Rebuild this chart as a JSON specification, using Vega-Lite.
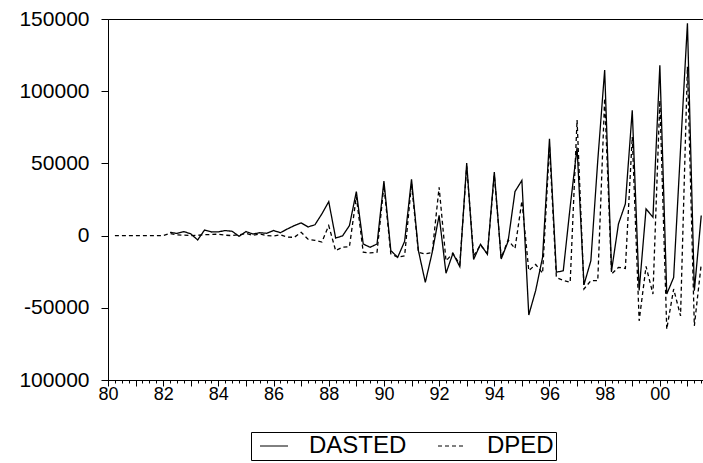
{
  "$schema": "https://vega.github.io/schema/vega-lite/v6.json",
  "width": 596,
  "height": 361,
  "autosize": "none",
  "padding": {"left": 108, "top": 19, "right": 0, "bottom": 83},
  "background": "white",
  "config": {
    "view": {"stroke": "black", "strokeWidth": 1},
    "axis": {"labelFont": "Liberation Sans", "labelColor": "black", "domainColor": "black", "domainWidth": 1, "ticks": true, "tickColor": "black", "tickWidth": 1, "tickOpacity": 1, "grid": false, "title": null, "labelOverlap": false, "labelFlush": false}
  },
  "data": {"values": [
    {"t": 1980.25, "DASTED": null, "DPED": 0},
    {"t": 1980.5, "DASTED": null, "DPED": 0},
    {"t": 1980.75, "DASTED": null, "DPED": 0},
    {"t": 1981.0, "DASTED": null, "DPED": 0},
    {"t": 1981.25, "DASTED": null, "DPED": 0},
    {"t": 1981.5, "DASTED": null, "DPED": 0},
    {"t": 1981.75, "DASTED": null, "DPED": 0},
    {"t": 1982.0, "DASTED": null, "DPED": 0},
    {"t": 1982.25, "DASTED": 2300, "DPED": 1500},
    {"t": 1982.5, "DASTED": 1500, "DPED": 500},
    {"t": 1982.75, "DASTED": 2800, "DPED": 300},
    {"t": 1983.0, "DASTED": 1200, "DPED": 0},
    {"t": 1983.25, "DASTED": -3000, "DPED": 200},
    {"t": 1983.5, "DASTED": 3900, "DPED": 600},
    {"t": 1983.75, "DASTED": 2500, "DPED": 800},
    {"t": 1984.0, "DASTED": 2600, "DPED": 1000},
    {"t": 1984.25, "DASTED": 3500, "DPED": 300},
    {"t": 1984.5, "DASTED": 3000, "DPED": 0},
    {"t": 1984.75, "DASTED": -500, "DPED": 600},
    {"t": 1985.0, "DASTED": 2800, "DPED": 1500},
    {"t": 1985.25, "DASTED": 1100, "DPED": 200},
    {"t": 1985.5, "DASTED": 2000, "DPED": 1200},
    {"t": 1985.75, "DASTED": 1600, "DPED": 0},
    {"t": 1986.0, "DASTED": 3500, "DPED": -300},
    {"t": 1986.25, "DASTED": 2000, "DPED": 500},
    {"t": 1986.5, "DASTED": 4600, "DPED": -1000},
    {"t": 1986.75, "DASTED": 6900, "DPED": -1200},
    {"t": 1987.0, "DASTED": 8800, "DPED": 2300},
    {"t": 1987.25, "DASTED": 6000, "DPED": -2500},
    {"t": 1987.5, "DASTED": 7500, "DPED": -3300},
    {"t": 1987.75, "DASTED": 15000, "DPED": -4500},
    {"t": 1988.0, "DASTED": 23500, "DPED": 6900},
    {"t": 1988.25, "DASTED": -1700, "DPED": -10400},
    {"t": 1988.5, "DASTED": -200, "DPED": -8000},
    {"t": 1988.75, "DASTED": 6900, "DPED": -7700},
    {"t": 1989.0, "DASTED": 30500, "DPED": 27000},
    {"t": 1989.25, "DASTED": -5800, "DPED": -11500},
    {"t": 1989.5, "DASTED": -8100, "DPED": -12000},
    {"t": 1989.75, "DASTED": -5800, "DPED": -11500},
    {"t": 1990.0, "DASTED": 37700, "DPED": 34700},
    {"t": 1990.25, "DASTED": -10400, "DPED": -12700},
    {"t": 1990.5, "DASTED": -15000, "DPED": -15000},
    {"t": 1990.75, "DASTED": -4000, "DPED": -14000},
    {"t": 1991.0, "DASTED": 39000, "DPED": 36000},
    {"t": 1991.25, "DASTED": -10400, "DPED": -11600},
    {"t": 1991.5, "DASTED": -32400, "DPED": -12700},
    {"t": 1991.75, "DASTED": -11600, "DPED": -11600},
    {"t": 1992.0, "DASTED": 14000, "DPED": 33500},
    {"t": 1992.25, "DASTED": -26100, "DPED": -17500},
    {"t": 1992.5, "DASTED": -12300, "DPED": -12300},
    {"t": 1992.75, "DASTED": -21500, "DPED": -20000},
    {"t": 1993.0, "DASTED": 50200, "DPED": 48000},
    {"t": 1993.25, "DASTED": -16500, "DPED": -14000},
    {"t": 1993.5, "DASTED": -6000, "DPED": -6500},
    {"t": 1993.75, "DASTED": -13000, "DPED": -12500},
    {"t": 1994.0, "DASTED": 44000, "DPED": 42000},
    {"t": 1994.25, "DASTED": -16200, "DPED": -15500},
    {"t": 1994.5, "DASTED": -4000, "DPED": -3000},
    {"t": 1994.75, "DASTED": 30500, "DPED": -9000},
    {"t": 1995.0, "DASTED": 38200, "DPED": 24000},
    {"t": 1995.25, "DASTED": -55000, "DPED": -24300},
    {"t": 1995.5, "DASTED": -38000, "DPED": -20000},
    {"t": 1995.75, "DASTED": -15000, "DPED": -26000},
    {"t": 1996.0, "DASTED": 67100, "DPED": 62000},
    {"t": 1996.25, "DASTED": -25400, "DPED": -29000},
    {"t": 1996.5, "DASTED": -24300, "DPED": -31000},
    {"t": 1996.75, "DASTED": 20000, "DPED": -32400},
    {"t": 1997.0, "DASTED": 61000, "DPED": 80000},
    {"t": 1997.25, "DASTED": -34000, "DPED": -37000},
    {"t": 1997.5, "DASTED": -17400, "DPED": -31200},
    {"t": 1997.75, "DASTED": 52000, "DPED": -31200},
    {"t": 1998.0, "DASTED": 114600, "DPED": 95000},
    {"t": 1998.25, "DASTED": -24300, "DPED": -26600},
    {"t": 1998.5, "DASTED": 8100, "DPED": -22000},
    {"t": 1998.75, "DASTED": 22000, "DPED": -22700},
    {"t": 1999.0, "DASTED": 86800, "DPED": 68300},
    {"t": 1999.25, "DASTED": -38000, "DPED": -59000},
    {"t": 1999.5, "DASTED": 18500, "DPED": -21300},
    {"t": 1999.75, "DASTED": 12700, "DPED": -40500},
    {"t": 2000.0, "DASTED": 118000, "DPED": 93700},
    {"t": 2000.25, "DASTED": -40500, "DPED": -64800},
    {"t": 2000.5, "DASTED": -29000, "DPED": -37000},
    {"t": 2000.75, "DASTED": 60000, "DPED": -55600},
    {"t": 2001.0, "DASTED": 147000, "DPED": 117000},
    {"t": 2001.25, "DASTED": -38200, "DPED": -62500},
    {"t": 2001.5, "DASTED": 13900, "DPED": -19700}
  ]},
  "transform": [{"fold": ["DASTED", "DPED"], "as": ["series", "value"]}],
  "layer": [
    {
      "mark": {"type": "line", "strokeWidth": 1.3, "color": "black"},
      "encoding": {
        "x": {
          "field": "t", "type": "quantitative",
          "scale": {"domain": [1980, 2001.6], "nice": false, "zero": false},
          "axis": {
            "orient": "bottom", "ticks": true,
            "values": [1980,1981,1982,1983,1984,1985,1986,1987,1988,1989,1990,1991,1992,1993,1994,1995,1996,1997,1998,1999,2000,2001],
            "tickSize": 6, "labelFontSize": 18, "labelPadding": -1,
            "labelExpr": "datum.value % 2 == 0 ? ((datum.value % 100) < 10 ? '0' : '') + (datum.value % 100) : ''"
          }
        },
        "y": {
          "field": "value", "type": "quantitative",
          "scale": {"domain": [-100000, 150000], "nice": false, "zero": false},
          "axis": {
            "ticks": true,
            "values": [-100000, -50000, 0, 50000, 100000, 150000],
            "tickSize": 7, "labelFontSize": 21, "labelPadding": 12,
            "labelExpr": "datum.value == -100000 ? '100000' : '' + datum.value"
          }
        },
        "strokeDash": {
          "field": "series", "type": "nominal",
          "scale": {"domain": ["DASTED", "DPED"], "range": [[1, 0], [4, 3]]},
          "legend": {
            "orient": "none", "legendX": 143, "legendY": 413, "direction": "horizontal",
            "title": null, "strokeColor": "black", "padding": 2,
            "symbolType": "M-2,0L2,0", "symbolSize": 196, "symbolStrokeWidth": 1, "symbolStrokeColor": "black", "symbolFillColor": "transparent", "symbolOffset": 9,
            "labelFont": "Liberation Sans", "labelFontSize": 24, "labelColor": "black",
            "labelOffset": 23, "columnPadding": 24
          }
        }
      }
    },
    {
      "mark": {"type": "line", "opacity": 0},
      "encoding": {
        "x": {
          "field": "t", "type": "quantitative",
          "scale": {"domain": [1980, 2001.6], "nice": false, "zero": false},
          "axis": {
            "orient": "bottom", "domain": false, "labels": false, "ticks": true, "tickSize": 3,
            "values": [1980,1980.25,1980.5,1980.75,1981,1981.25,1981.5,1981.75,1982,1982.25,1982.5,1982.75,1983,1983.25,1983.5,1983.75,1984,1984.25,1984.5,1984.75,1985,1985.25,1985.5,1985.75,1986,1986.25,1986.5,1986.75,1987,1987.25,1987.5,1987.75,1988,1988.25,1988.5,1988.75,1989,1989.25,1989.5,1989.75,1990,1990.25,1990.5,1990.75,1991,1991.25,1991.5,1991.75,1992,1992.25,1992.5,1992.75,1993,1993.25,1993.5,1993.75,1994,1994.25,1994.5,1994.75,1995,1995.25,1995.5,1995.75,1996,1996.25,1996.5,1996.75,1997,1997.25,1997.5,1997.75,1998,1998.25,1998.5,1998.75,1999,1999.25,1999.5,1999.75,2000,2000.25,2000.5,2000.75,2001,2001.25,2001.5]
          }
        },
        "y": {"field": "value", "type": "quantitative", "scale": {"domain": [-100000, 150000], "nice": false, "zero": false}, "axis": null},
        "detail": {"field": "series"}
      }
    }
  ],
  "resolve": {"axis": {"x": "independent", "y": "independent"}}
}
